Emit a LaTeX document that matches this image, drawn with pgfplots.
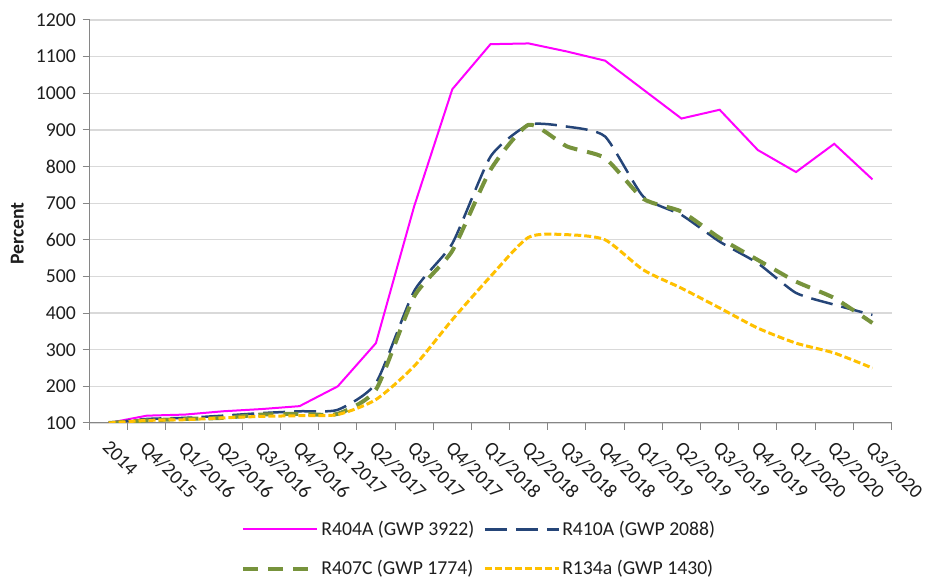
\documentclass[border=0pt]{standalone}
\usepackage{fontspec}
\setmainfont{Carlito}
\usepackage{pgfplots}
\pgfplotsset{compat=1.18}
\definecolor{r404}{RGB}{255,0,255}
\definecolor{r410}{RGB}{37,69,120}
\definecolor{r407}{RGB}{119,147,60}
\definecolor{r134}{RGB}{255,192,0}
\definecolor{axisgray}{RGB}{134,134,134}
\definecolor{gridgray}{RGB}{217,217,217}
\definecolor{txt}{RGB}{30,30,30}

\begin{document}
\fontsize{19.7}{23}\selectfont
\begin{tikzpicture}
\path[use as bounding box] (0pt,0pt) rectangle (926pt,586pt);
\begin{axis}[
  at={(89.5pt,163pt)}, anchor=south west,
  scale only axis, width=802pt, height=403pt,
  xmin=-0.5, xmax=20.5, ymin=100, ymax=1200,
  ytick={100,200,...,1200},
  xtick={0,...,20},
  xticklabels={2014,Q4/2015,Q1/2016,Q2/2016,Q3/2016,Q4/2016,Q1 2017,Q2/2017,Q3/2017,Q4/2017,Q1/2018,Q2/2018,Q3/2018,Q4/2018,Q1/2019,Q2/2019,Q3/2019,Q4/2019,Q1/2020,Q2/2020,Q3/2020},
  minor xtick={-0.5,0.5,...,20.5},
  axis x line*=bottom, axis y line*=left,
  axis line style={axisgray, line width=1pt},
  tick align=outside, major tick length=7pt, minor tick length=7pt,
  every major x tick/.append style={draw=none},
  every tick/.append style={axisgray, line width=1pt},
  every minor tick/.append style={axisgray, line width=1pt},
  ymajorgrids, grid style={gridgray, line width=1.2pt},
  /pgf/number format/assume math mode=true,
  /pgf/number format/1000 sep={},
  ticklabel style={text=txt},
  xticklabel style={rotate=-45, anchor=north west, inner sep=1pt, xshift=7pt, yshift=-4pt},
  ylabel={\bfseries Percent},
  ylabel style={at={(axis description cs:-0.09,0.47)}, anchor=center, text=txt},
  legend image code/.code={\draw[#1] (0pt,0pt) -- (74pt,0pt);},
  legend style={at={(axis description cs:0.486,-0.313)}, anchor=center,
    draw=none, fill=none, legend columns=2, text=txt, row sep=18pt,
    /tikz/every even column/.append style={column sep=7pt}},
  legend cell align=left,
]
\addplot[r404, line width=2pt] coordinates {
  (0,100)(1,120)(2,123)(3,132)(4,138)(5,146)(6,200)(7,318)(8,691)(9,1011)
  (10,1134)(11,1136)(12,1114)(13,1089)(14,1010)(15,931)(16,955)(17,845)
  (18,785)(19,862)(20,765)};
\addlegendentry{R404A (GWP 3922)}
\addplot[r410, line width=2.5pt, smooth, tension=0.35, dash pattern=on 22pt off 9pt] coordinates {
  (0,100)(1,111)(2,114)(3,120)(4,127)(5,132)(6,136)(7,209)(8,460)(9,590)
  (10,827)(11,914)(12,909)(13,882)(14,718)(15,668)(16,595)(17,536)
  (18,455)(19,423)(20,395)};
\addlegendentry{R410A (GWP 2088)}
\addplot[r407, line width=4pt, smooth, tension=0.35, dash pattern=on 15pt off 10pt] coordinates {
  (0,100)(1,107)(2,111)(3,114)(4,123)(5,125)(6,125)(7,191)(8,445)(9,570)
  (10,791)(11,914)(12,855)(13,823)(14,712)(15,677)(16,605)(17,545)
  (18,486)(19,441)(20,373)};
\addlegendentry{R407C (GWP 1774)}
\addplot[r134, line width=3pt, smooth, tension=0.4, dash pattern=on 7pt off 3pt] coordinates {
  (0,100)(1,107)(2,109)(3,114)(4,118)(5,120)(6,123)(7,164)(8,255)(9,382)
  (10,500)(11,607)(12,614)(13,600)(14,518)(15,468)(16,414)(17,359)
  (18,318)(19,291)(20,250)};
\addlegendentry{R134a (GWP 1430)}
\end{axis}
\end{tikzpicture}
\end{document}
